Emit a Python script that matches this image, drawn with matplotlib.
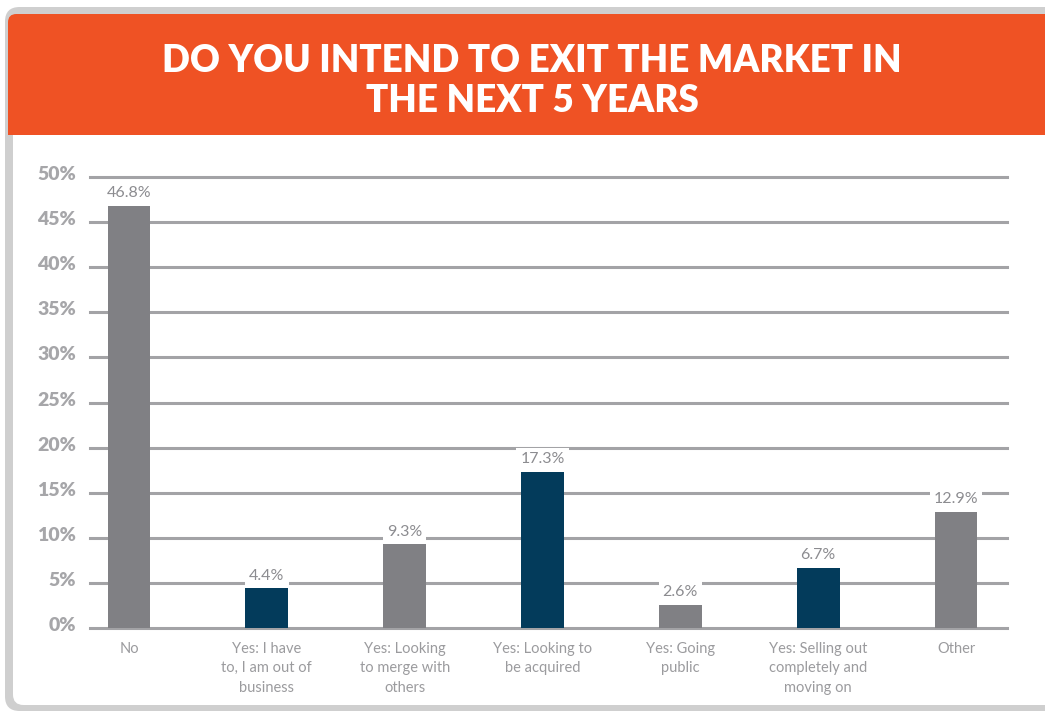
import matplotlib
matplotlib.use("Agg")
import matplotlib.pyplot as plt
from matplotlib.patches import FancyBboxPatch, Rectangle
from matplotlib.transforms import ScaledTranslation

categories = [
    "No",
    "Yes: I have\nto, I am out of\nbusiness",
    "Yes: Looking\nto merge with\nothers",
    "Yes: Looking to\nbe acquired",
    "Yes: Going\npublic",
    "Yes: Selling out\ncompletely and\nmoving on",
    "Other",
]
values = [46.8, 4.4, 9.3, 17.3, 2.6, 6.7, 12.9]
bar_colors = ["#808084", "#033b5b", "#808084", "#033b5b", "#808084", "#033b5b", "#808084"]
yticks = [0, 5, 10, 15, 20, 25, 30, 35, 40, 45, 50]
title = "DO YOU INTEND TO EXIT THE MARKET IN\nTHE NEXT 5 YEARS"

W, H = 1045, 713
fig = plt.figure(figsize=(W / 100, H / 100), dpi=100)
fig.patch.set_facecolor("white")


def fx(px):
    return px / W


def fy(py):
    return 1 - py / H


# card frame
fig.add_artist(FancyBboxPatch((fx(5), fy(711)), fx(1100), 704 / H,
                              boxstyle="round,pad=0,rounding_size=0.014",
                              transform=fig.transFigure, facecolor="#cfcfcf",
                              edgecolor="none", mutation_aspect=W / H, zorder=0))
fig.add_artist(FancyBboxPatch((fx(13), fy(705)), fx(1100), 691 / H,
                              boxstyle="round,pad=0,rounding_size=0.010",
                              transform=fig.transFigure, facecolor="white",
                              edgecolor="none", mutation_aspect=W / H, zorder=0))
# title banner
fig.add_artist(FancyBboxPatch((fx(8), fy(135)), fx(1100), 121 / H,
                              boxstyle="round,pad=0,rounding_size=0.008",
                              transform=fig.transFigure, facecolor="#ef5224",
                              edgecolor="none", mutation_aspect=W / H, zorder=1))
fig.add_artist(Rectangle((fx(8), fy(135)), fx(1100), 40 / H,
                         transform=fig.transFigure, facecolor="#ef5224",
                         edgecolor="none", zorder=1))
fig.text(fx(532), fy(81), title, ha="center", va="center", color="white",
         fontsize=26.5, fontweight="heavy", family="Lato", linespacing=1.18, zorder=2)

# plotting area
left, right, base, top = 90, 1007, 628, 177
ax = fig.add_axes([fx(left), fy(base), fx(right - left), (base - top) / H])
ax.set_facecolor("none")
x = list(range(len(values)))
ax.set_xlim(-0.283, 6.37)
ax.set_ylim(0, 50)

for yv in yticks:
    ax.axhline(yv, color="#a3a3a6", lw=2.2, zorder=1, clip_on=False)

ax.bar(x, values, width=0.31, color=bar_colors, zorder=2)

for xi, v in zip(x, values):
    ax.annotate(f"{v}%", (xi, v), xytext=(0, 4), textcoords="offset points",
                ha="center", va="bottom", fontsize=11.5, color="#8c8c90",
                family="Lato", zorder=3,
                bbox=dict(boxstyle="square,pad=0.25", facecolor="white", edgecolor="none"))

for xi, c in zip(x, categories):
    ax.annotate(c, (xi, 0), xytext=(0, -10), textcoords="offset points",
                ha="center", va="top", fontsize=10.5, color="#9b9b9e",
                family="Lato", linespacing=1.5)

ax.set_yticks(yticks)
ax.set_yticklabels([f"{t}%" for t in yticks], fontsize=14, fontweight="heavy",
                   color="#a6a6a9", family="Lato")
ax.tick_params(axis="y", length=0, pad=10)
lift = ScaledTranslation(0, 4 / 100, fig.dpi_scale_trans)
for lbl in ax.get_yticklabels():
    lbl.set_transform(lbl.get_transform() + lift)
ax.set_xticks([])
for s in ax.spines.values():
    s.set_visible(False)

fig.savefig("out.png", dpi=100)
